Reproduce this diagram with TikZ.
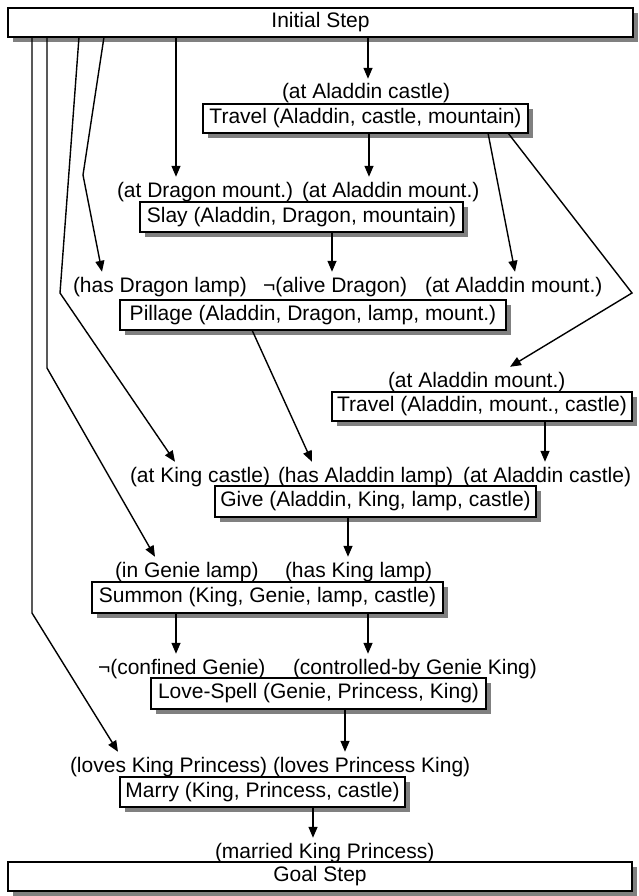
\documentclass[tikz,border=0pt]{standalone}
\usepackage{fontspec}
\setmainfont{Liberation Sans}
\usetikzlibrary{arrows.meta}
\definecolor{shadowgray}{RGB}{128,128,128}
\newcommand\labfont{\fontsize{21}{24}\selectfont}
% box with a drop shadow: #1 name, #2 left, #3 top, #4 right, #5 bottom, #6 text
\newcommand\stepbox[6]{%
  \fill[shadowgray] (#2+5,#3+5) rectangle (#4+5,#5+5);
  \node[box, minimum width=#4-#2, minimum height=#5-#3] (#1) at ({(#2+#4)/2},{(#3+#5)/2}) {#6};
}
\begin{document}
\begin{tikzpicture}[x=1pt,y=-1pt,
  box/.style={draw, line width=1.6pt, fill=white, inner sep=0pt, outer sep=0pt, font=\labfont},
  lbl/.style={inner sep=0pt, outer sep=5pt, anchor=base west, font=\labfont},
  arr/.style={line width=1.4pt, -{Triangle[length=11pt,width=9pt]}},
]
\useasboundingbox (0,0) rectangle (639,896);
% boxes
\stepbox{ini}{8}{8}{633}{37}{Initial Step}
\stepbox{tr1}{203}{104}{528}{133}{Travel (Aladdin, castle, mountain)}
\stepbox{slay}{140}{202}{463}{232}{Slay (Aladdin, Dragon, mountain)}
\stepbox{pil}{120}{300}{506}{330}{Pillage (Aladdin, Dragon, lamp, mount.)}
\stepbox{tr2}{332}{392}{632}{421}{Travel (Aladdin, mount., castle)}
\stepbox{give}{215}{486}{536}{517}{Give (Aladdin, King, lamp, castle)}
\stepbox{sum}{92}{582}{443}{613}{Summon (King, Genie, lamp, castle)}
\stepbox{love}{151}{678}{486}{709}{Love-Spell (Genie, Princess, King)}
\stepbox{marry}{120}{777}{405}{807}{Marry (King, Princess, castle)}
\stepbox{goal}{8}{862}{632}{891}{Goal Step}
% labels
\node[lbl] (r1a) at (277,99) {(at Aladdin castle)};
\node[lbl] (r2a) at (112,197) {(at Dragon mount.)};
\node[lbl] (r2b) at (297,197) {(at Aladdin mount.)};
\node[lbl] (r3a) at (68,292) {(has Dragon lamp)};
\node[lbl] (r3b) at (258,292) {¬(alive Dragon)};
\node[lbl] (r3c) at (420,292) {(at Aladdin mount.)};
\node[lbl] (r4a) at (383,387) {(at Aladdin mount.)};
\node[lbl] (r5a) at (125,482) {(at King castle)};
\node[lbl] (r5b) at (273,482) {(has Aladdin lamp)};
\node[lbl] (r5c) at (458,482) {(at Aladdin castle)};
\node[lbl] (r6a) at (110,577) {(in Genie lamp)};
\node[lbl] (r6b) at (280,577) {(has King lamp)};
\node[lbl] (r7a) at (93,674) {¬(confined Genie)};
\node[lbl] (r7b) at (288,674) {(controlled-by Genie King)};
\node[lbl] (r8a) at (65,772) {(loves King Princess)};
\node[lbl] (r8b) at (268,772) {(loves Princess King)};
\node[lbl] (r9a) at (210,858) {(married King Princess)};
% connectors from the initial step
\draw[arr] (ini.south -| 32,0) -- (32,613) -- (r8a.north -| 118,0);
\draw[arr] (ini.south -| 47,0) -- (47,368) -- (r6a.north -| 155,0);
\draw[arr] (ini.south -| 79,0) -- (60,293) -- (r5a.north -| 175,0);
\draw[arr] (ini.south -| 104,0) -- (83,175) -- (r3a.north -| 102,0);
\draw[arr] (ini.south -| 176,0) -- (r2a.north -| 176,0);
\draw[arr] (ini.south -| 368,0) -- (r1a.north -| 368,0);
% other connectors
\draw[arr] (tr1.south -| 369,0) -- (r2b.north -| 369,0);
\draw[arr] (tr1.south -| 488,0) -- (r3c.north -| 515,0);
\draw[arr] (tr1.south -| 508,0) -- (632,293) -- (r4a.north -| 510,0);
\draw[arr] (slay.south -| 332,0) -- (r3b.north -| 332,0);
\draw[arr] (pil.south -| 252,0) -- (r5b.north -| 312,0);
\draw[arr] (tr2.south -| 545,0) -- (r5c.north -| 545,0);
\draw[arr] (give.south -| 348,0) -- (r6b.north -| 348,0);
\draw[arr] (sum.south -| 176,0) -- (r7a.north -| 176,0);
\draw[arr] (sum.south -| 368,0) -- (r7b.north -| 368,0);
\draw[arr] (love.south -| 345,0) -- (r8b.north -| 345,0);
\draw[arr] (marry.south -| 313,0) -- (r9a.north -| 313,0);
\end{tikzpicture}
\end{document}
